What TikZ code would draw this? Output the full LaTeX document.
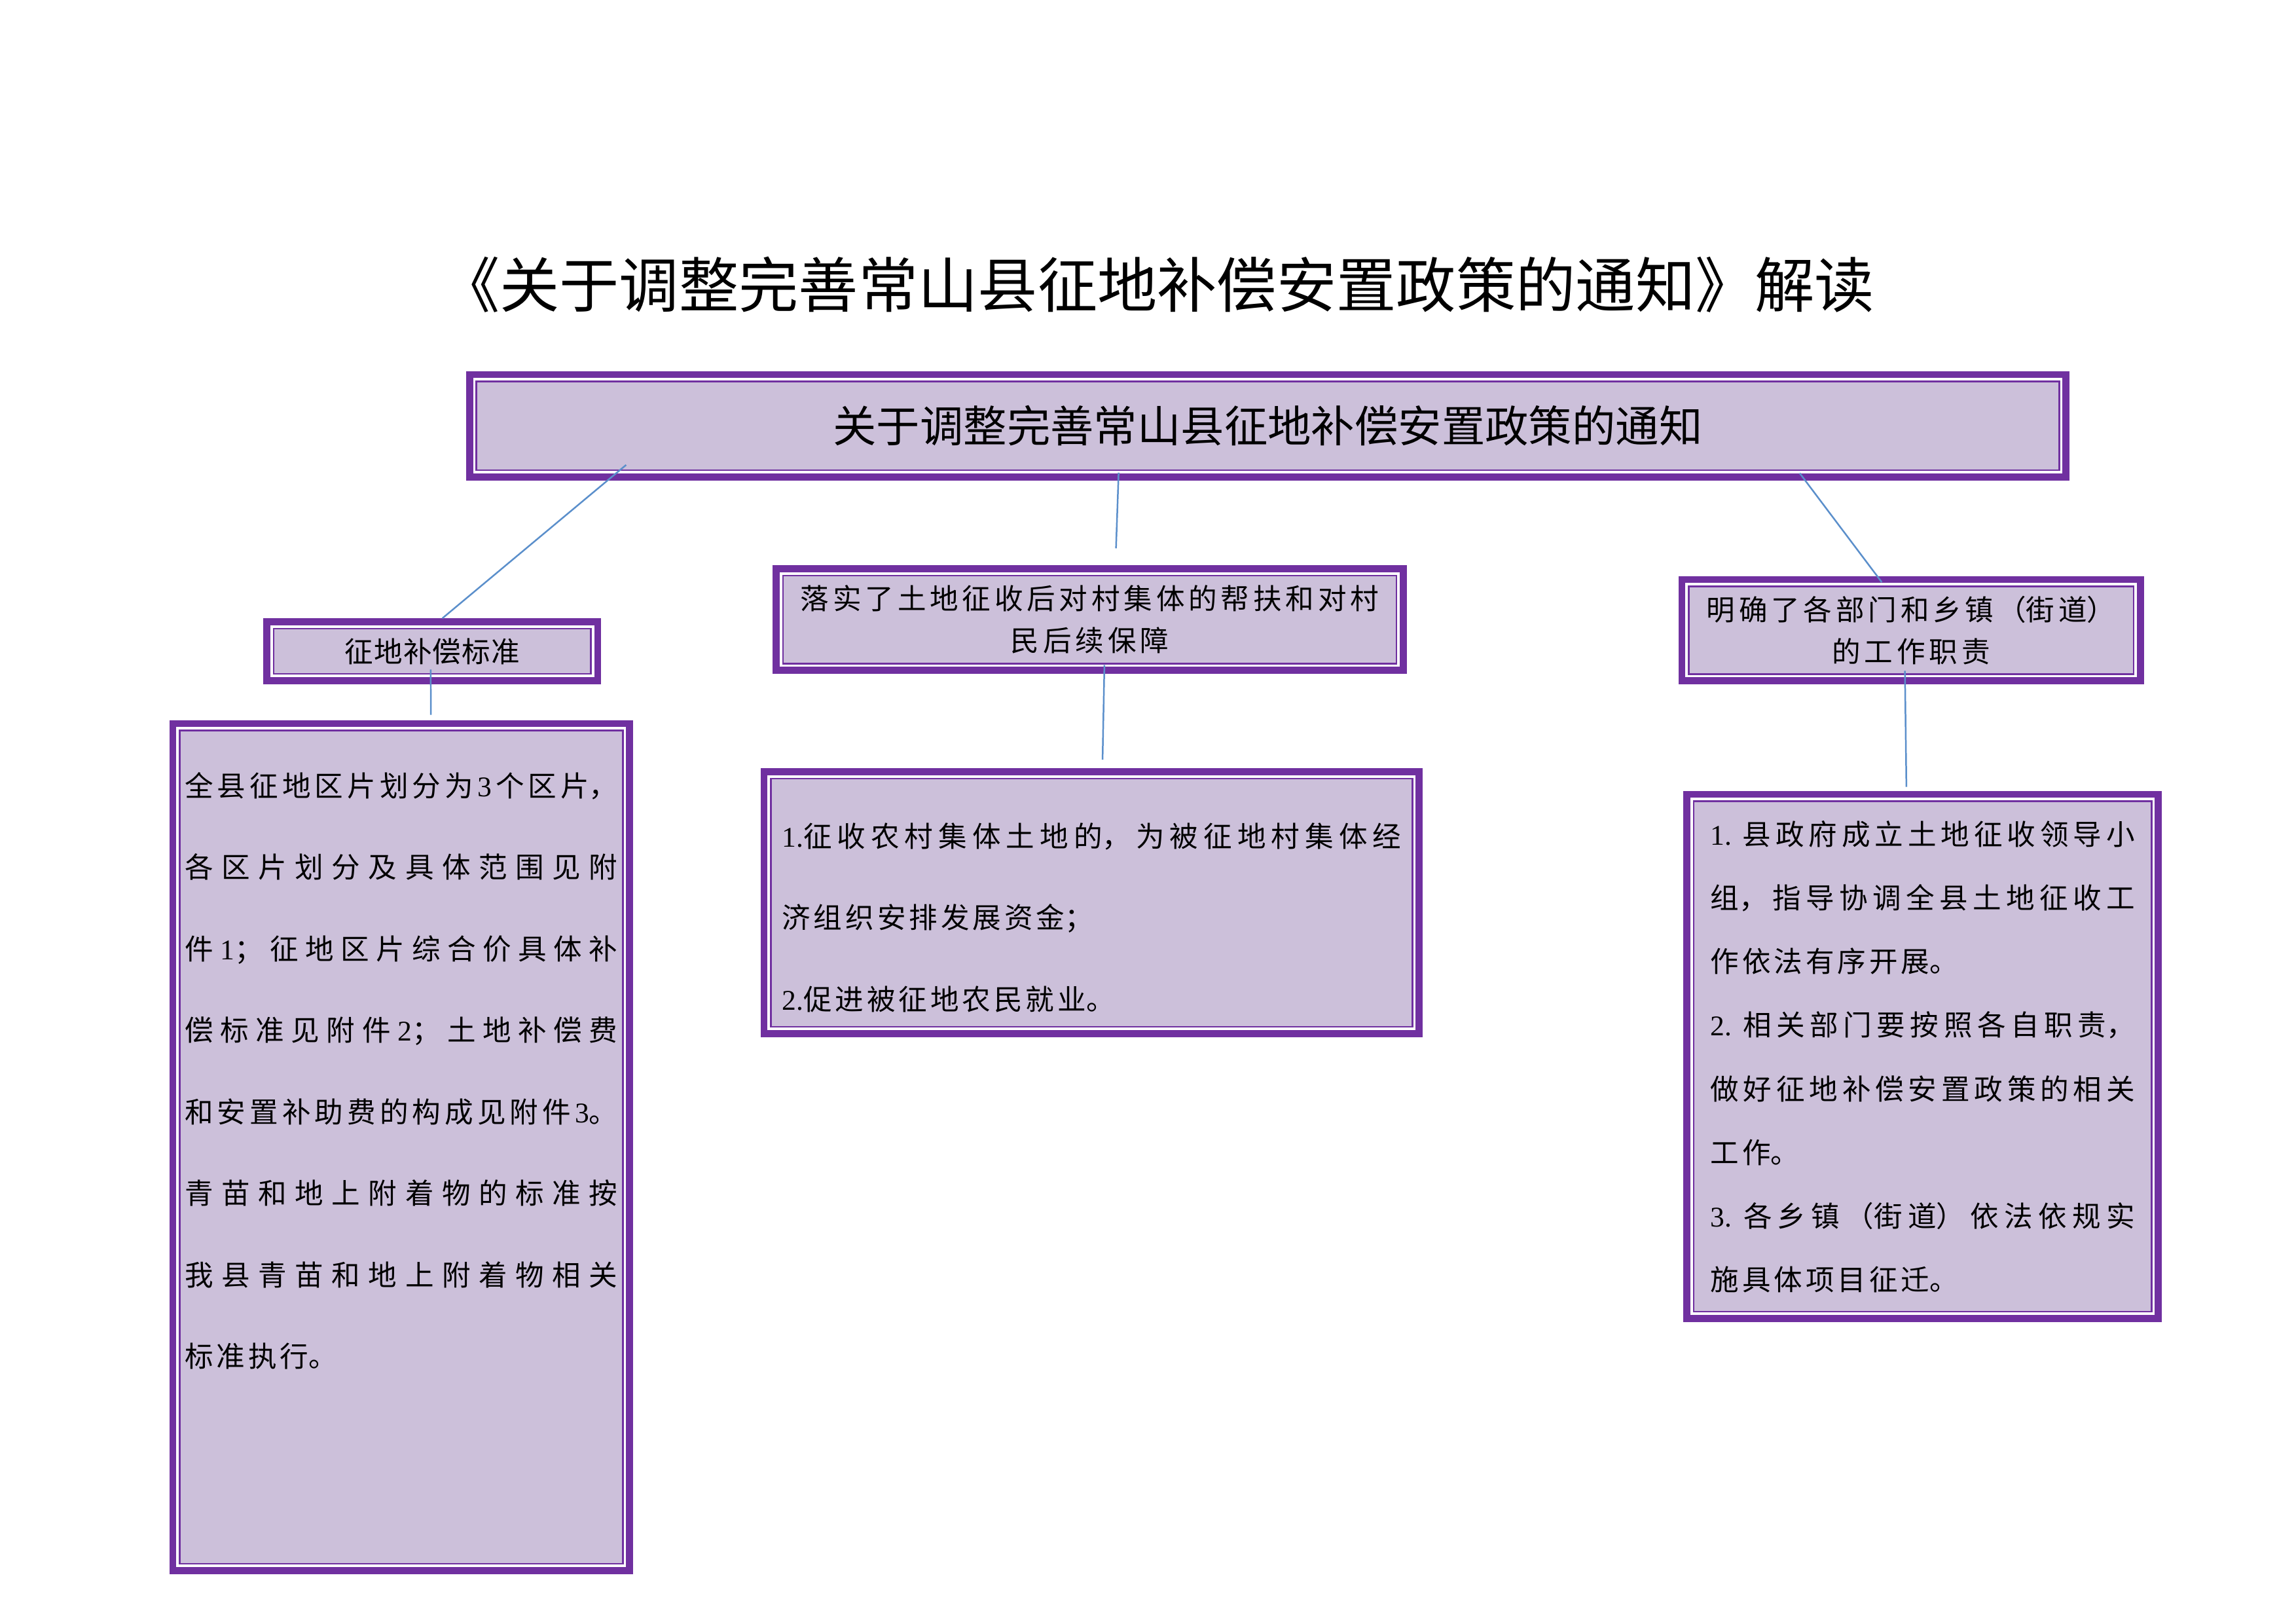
\documentclass[tikz,border=0pt]{standalone}
\usepackage{fontspec}
\setmainfont{Liberation Serif}
\newfontfamily\cjk{Noto Sans CJK SC}
\usetikzlibrary{calc}
\XeTeXlinebreaklocale "zh"
\XeTeXlinebreakskip=0pt plus 1pt
\definecolor{vpurple}{HTML}{7030A0}
\definecolor{vlilac}{HTML}{CCC0DA}
\definecolor{vblue}{HTML}{5B8FCB}
\newcommand\lat[1]{{\rmfamily #1}}
\newcommand\cjkspaced[1]{\XeTeXlinebreakskip=#1\relax}
\newcommand\lgap{\hskip\XeTeXlinebreakskip}
\tikzset{
	framebox/.style={draw=vpurple, line width=2.6pt, fill=white, inner sep=0pt,
		path picture={\draw[vpurple, line width=0.6pt, fill=vlilac]
			([shift={(2.5pt,2.5pt)}]path picture bounding box.south west) rectangle
			([shift={(-2.5pt,-2.5pt)}]path picture bounding box.north east);}},
	headfont/.style={font={\cjk\fontsize{10.5}{15.5}\selectfont\cjkspaced{#1}}, align=center},
	headfont/.default=1.4pt,
	bodyfont/.style={font={\cjk\fontsize{10.5}{#1}\selectfont\cjkspaced{1.2pt plus 4pt}}, align=justify},
	link/.style={draw=vblue, line width=0.6pt},
}

\begin{document}
\begin{tikzpicture}
			%%%%% START %%%%%
			\useasboundingbox (0,0) rectangle (29.7,21);
			
			\node[font=\cjk\fontsize{22}{26}\selectfont] (title) at (14.97,17.316) {《关于调整完善常山县征地补偿安置政策的通知》解读};
			
			\node[framebox, minimum width=20.65cm, minimum height=1.322cm, font=\cjk\fontsize{16}{19}\selectfont] (notice) at (16.40,15.494) {关于调整完善常山县征地补偿安置政策的通知};
			
			\node[framebox, headfont=0.3pt, text width=4cm, minimum width=4.279cm, minimum height=0.76cm] (standard) at (5.592,12.578) {征地补偿标准};
			\node[framebox, headfont, text width=7.9cm, minimum width=8.107cm, minimum height=1.313cm] (support) at (14.096,12.987) {落实了土地征收后对村集体的帮扶和对村\\民后续保障};
			\node[framebox, headfont, text width=5.7cm, minimum width=5.93cm, minimum height=1.311cm] (duty) at (24.721,12.85) {明确了各部门和乡镇（街道）\\的工作职责};
			
			\node[framebox, bodyfont=30pt, text width=5.6cm, inner xsep=0.155cm, text height=26.8pt, text depth=284.9pt] (standardtext) at (5.19,6.165) {全县征地区片划分为\lgap\lat{3}\lgap 个区片，\linebreak 各区片划分及具体范围见附\linebreak 件\lgap\lat{1}；征地区片综合价具体补\linebreak 偿标准见附件\lgap\lat{2}；土地补偿费\linebreak 和安置补助费的构成见附件\lgap\lat{3}。\linebreak 青苗和地上附着物的标准按\linebreak 我县青苗和地上附着物相关\linebreak 标准执行。};
			
			\node[framebox, bodyfont=30pt, text width=8.01cm, inner xsep=0.232cm, text height=27.6pt, text depth=68.7pt] (supporttext) at (14.12,9.325) {\lat{1.}征收农村集体土地的，为被征地村集体经\linebreak 济组织安排发展资金；\\\lat{2.}促进被征地农民就业。};
			
			\node[framebox, bodyfont=23.4pt, text width=5.49cm, inner xsep=0.3045cm, text height=18.7pt, text depth=174.2pt] (dutytext) at (24.87,7.338) {\lat{1. }县政府成立土地征收领导小\linebreak 组，指导协调全县土地征收工\linebreak 作依法有序开展。\\\lat{2. }相关部门要按照各自职责，\linebreak 做好征地补偿安置政策的相关\linebreak 工作。\\\lat{3. }各乡镇（街道）依法依规实\linebreak 施具体项目征迁。};
			
			\draw[link] ([shift={(2.07cm,0.2cm)}]notice.south west) -- ([xshift=0.13cm]standard.north);
			\draw[link] ([shift={(-1.93cm,0.1cm)}]notice.south) -- ([shift={(0.34cm,0.22cm)}]support.north);
			\draw[link] ([shift={(6.88cm,0.093cm)}]notice.south) -- ([shift={(-0.38cm,-0.08cm)}]duty.north);
			
			\draw[link] ([shift={(-0.02cm,0.19cm)}]standard.south) -- ([shift={(0.383cm,0.068cm)}]standardtext.north);
			\draw[link] ([shift={(0.19cm,0.115cm)}]support.south) -- ([shift={(0.142cm,0.112cm)}]supporttext.north);
			\draw[link] ([shift={(-0.08cm,0.176cm)}]duty.south) -- ([shift={(-0.21cm,0.05cm)}]dutytext.north);
			
			%%%%% END %%%%%
\end{tikzpicture}
\end{document}
